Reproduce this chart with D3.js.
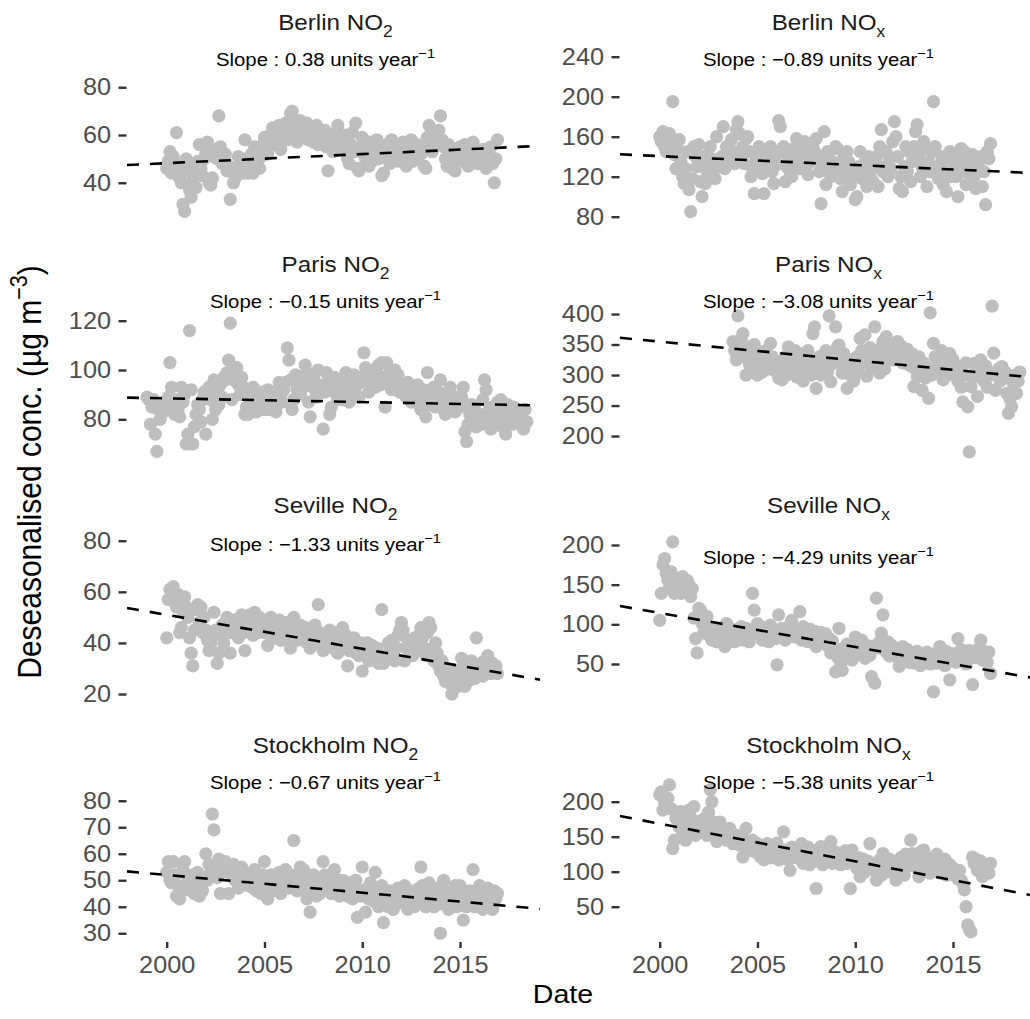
<!DOCTYPE html>
<html><head><meta charset="utf-8">
<script src="https://cdn.jsdelivr.net/npm/d3@7"></script>
<style>body{margin:0;background:#fff}svg{display:block}</style>
</head><body>
<svg id="c" width="1030" height="1019"></svg>
<script>
// ---------------- DATA ----------------
const cities = ["Berlin","Berlin","Paris","Paris","Seville","Seville","Stockholm","Stockholm"];
const pollutantSub = ["2","x","2","x","2","x","2","x"];
const seriesStart = [2000, 2000, 1999, 2003.75, 2000, 2000, 2000, 2000]; // decimal year of first monthly value

const berlinNO2 = [
46,49,53,44,51,48,61,47,42,40,31,28,
50,45,37,34,41,46,38,49,56,46,43,50,
52,57,40,39,42,51,54,50,68,55,48,52,
52,45,47,33,45,40,42,44,51,48,46,44,
58,50,44,47,52,44,55,49,53,46,51,56,
59,55,52,57,60,63,56,61,58,64,54,60,
62,65,58,60,69,70,64,61,57,63,66,60,
62,59,65,58,61,63,57,60,64,56,62,59,
58,62,55,45,57,60,53,59,61,64,56,60,
57,54,60,50,48,56,61,53,65,46,45,55,
59,52,50,55,47,57,49,54,52,58,50,55,
43,44,52,56,50,48,58,53,55,51,49,54,
54,57,50,47,55,52,58,49,53,51,56,55,
52,55,47,46,59,64,57,53,55,60,57,62,
68,58,55,50,47,56,53,46,54,45,50,52,
55,52,49,56,53,47,54,51,57,50,53,48,
52,49,54,50,46,53,51,55,48,40,50,58];

const berlinNOx = [
160,155,165,150,145,158,163,152,195,142,128,148,
157,135,120,113,128,145,107,85,118,150,140,130,
152,115,100,140,113,125,130,150,138,120,118,160,
130,135,140,170,128,150,143,136,157,145,133,167,
175,163,140,150,133,158,160,145,120,128,103,135,
140,150,130,123,103,128,146,135,150,125,113,140,
132,176,170,145,150,115,130,138,125,120,148,135,
158,140,128,150,145,155,130,122,140,135,150,145,
158,140,125,93,130,165,112,145,138,120,135,128,
150,148,130,118,105,140,125,145,135,112,128,120,
97,100,130,145,118,125,135,110,140,122,128,115,
135,140,110,150,167,125,130,145,120,138,128,155,
175,160,140,108,120,105,130,150,125,145,115,135,
150,165,172,140,120,130,155,148,110,135,125,145,
195,150,130,118,125,140,112,135,105,128,145,120,
140,130,120,100,135,148,125,145,112,138,130,118,
142,120,108,130,135,140,110,125,92,145,138,153];

const parisNO2 = [
89,88,78,85,88,74,67,84,80,86,83,87,
86,89,103,93,85,82,88,84,81,93,87,90,
70,74,116,92,70,77,82,86,84,79,88,91,
74,90,93,88,80,96,84,92,86,94,89,97,
96,99,104,119,88,96,99,101,94,90,97,93,
82,85,82,88,92,93,86,83,90,84,88,91,
84,87,92,84,89,91,86,83,88,95,90,87,
92,95,109,104,96,84,88,98,92,94,90,96,
93,102,99,87,81,95,97,92,89,100,94,91,
76,91,99,95,82,85,93,97,90,88,96,92,
88,93,99,96,87,91,95,98,90,94,89,97,
97,107,101,95,91,98,96,100,93,99,102,94,
103,97,85,103,95,99,92,96,100,94,98,91,
93,91,92,89,95,90,87,93,88,91,94,86,
84,88,92,81,99,86,90,87,93,85,89,91,
96,88,84,82,90,86,93,85,88,83,87,89,
85,89,93,75,71,78,82,86,80,84,77,81,
82,78,88,96,92,80,84,76,85,79,83,87,
84,88,77,81,74,86,80,83,78,85,79,82,
82,78,80,76,84,79];

const parisNOx = [
355,340,325,
397,345,360,368,330,300,346,318,335,310,350,325,
300,315,338,305,325,340,318,310,352,330,308,322,
308,295,320,292,315,330,300,346,312,325,305,340,
297,318,335,310,290,325,305,340,320,300,368,379,
278,310,330,300,322,315,340,305,397,289,318,330,
379,346,349,320,303,335,310,278,325,300,315,290,
314,330,305,360,340,320,366,298,325,345,312,330,
379,341,320,303,335,355,310,363,330,345,336,325,
346,340,355,330,348,320,335,319,342,328,315,335,
281,310,297,330,305,275,320,295,310,262,402,300,
352,330,318,314,305,340,292,325,310,300,335,320,
325,303,315,290,310,280,256,300,320,248,174,281,
295,319,310,265,303,325,300,290,315,280,305,300,
413,336,275,303,310,290,314,295,305,270,237,260,
248,286,300,270,290,305];

const sevilleNO2 = [
42,57,61,58,62,56,54,59,44,46,52,58,
54,50,42,36,31,45,53,55,48,54,44,50,
45,41,37,40,44,52,45,32,36,43,47,40,
48,50,46,36,44,49,45,48,42,47,51,44,
37,49,45,51,46,43,52,47,44,50,46,48,
44,48,39,46,50,45,42,47,44,49,41,46,
45,48,42,47,38,44,50,46,41,43,47,45,
43,46,40,44,38,45,42,47,41,55,44,39,
37,43,41,39,45,42,38,44,40,36,43,41,
46,40,43,31,37,41,38,42,36,39,35,40,
29,38,35,40,33,37,39,34,36,38,32,35,
53,32,35,34,40,37,41,36,33,38,43,45,
48,45,33,38,41,36,39,35,42,37,40,43,
46,42,38,35,44,48,46,37,33,40,36,31,
29,33,27,25,30,28,24,20,26,24,29,23,
28,34,31,23,27,25,30,33,28,26,42,30,
29,32,27,33,30,35,31,28,32,29,31,28];

const sevilleNOx = [
105,139,175,183,164,156,147,166,204,139,156,148,
152,139,160,148,143,155,150,135,145,108,82,64,
120,118,101,89,95,110,92,85,80,96,88,78,
90,85,93,75,72,101,88,95,82,93,78,86,
84,90,97,80,88,95,85,78,92,139,118,93,
101,88,93,80,96,85,92,78,99,87,94,82,
49,112,85,95,88,80,92,97,86,105,90,84,
93,88,116,80,97,85,90,78,94,86,82,91,
72,85,78,90,84,76,88,73,82,64,79,70,
40,59,95,51,42,70,63,75,58,68,55,72,
84,68,75,62,80,71,57,66,73,61,34,69,
26,133,76,70,89,112,72,65,78,60,74,68,
64,70,58,47,66,72,60,55,68,52,63,59,
51,60,66,55,48,62,57,52,65,58,50,61,
15,63,51,58,72,55,61,48,66,53,30,57,
63,59,52,82,60,68,55,64,50,61,67,58,
24,64,58,68,62,80,55,66,60,52,65,38];

const stockholmNO2 = [
53,57,50,49,57,52,44,48,43,46,54,57,
47,50,48,46,52,45,49,53,44,48,46,51,
60,50,56,53,75,69,54,51,58,45,53,56,
57,54,45,55,52,56,50,53,47,51,55,49,
53,50,48,52,51,47,54,46,50,49,45,52,
57,44,43,48,52,46,51,49,47,53,45,50,
48,54,50,47,52,49,65,49,46,51,55,48,
54,47,43,50,38,46,52,48,44,49,45,51,
57,52,49,47,51,45,48,54,46,50,44,49,
50,46,48,44,49,47,43,45,50,36,46,44,
55,45,38,47,43,49,46,42,53,44,40,46,
48,34,42,45,40,46,43,39,44,41,47,42,
45,43,48,41,39,44,46,42,40,45,43,47,
55,48,44,40,46,49,42,45,40,47,43,41,
30,44,50,46,42,39,45,41,43,48,40,44,
48,42,35,44,40,43,46,41,54,40,45,42,
48,43,39,45,42,47,44,41,39,46,43,45];

const stockholmNOx = [
210,214,188,198,200,205,224,190,133,145,176,185,
164,186,157,171,145,160,188,178,171,193,152,165,
172,160,158,175,168,152,185,217,200,171,160,143,
160,171,164,150,158,145,155,162,150,140,148,152,
143,138,150,121,145,162,136,140,130,145,135,128,
140,125,121,135,117,132,140,128,120,137,125,130,
141,117,130,125,157,131,118,124,102,135,120,128,
125,132,118,140,112,128,120,135,110,122,130,115,
76,121,130,136,110,117,125,118,135,143,112,120,
128,121,115,110,125,118,130,112,122,76,131,115,
112,105,120,93,110,118,100,112,115,140,104,108,
102,88,110,117,95,126,108,112,100,118,105,107,
110,88,115,100,120,112,95,125,108,118,145,126,
118,107,112,93,128,100,131,115,105,117,98,110,
120,108,125,115,98,112,102,118,95,105,110,100,
105,95,98,90,102,88,83,74,50,24,18,14,
121,112,118,102,107,115,93,110,100,105,98,112];

const series = [berlinNO2, berlinNOx, parisNO2, parisNOx, sevilleNO2, sevilleNOx, stockholmNO2, stockholmNOx];
const slopes = [0.38, -0.89, -0.15, -3.08, -1.33, -4.29, -0.67, -5.38];
const trendAt2000 = [48.2, 140.6, 88.5, 354.8, 51.0, 114.3, 52.0, 168.6];
const slopeLabels = ["0.38","\u22120.89","\u22120.15","\u22123.08","\u22121.33","\u22124.29","\u22120.67","\u22125.38"];
const yTicks = [[40,60,80],[80,120,160,200,240],[80,100,120],[200,250,300,350,400],
                [20,40,60,80],[50,100,150,200],[30,40,50,60,70,80],[50,100,150,200]];
const xTicks = [2000, 2005, 2010, 2015];

// ---------------- LAYOUT ----------------
const SX = 1.1;               // horizontal glyph stretch
const FONT = "'Liberation Sans', Arial, Helvetica, sans-serif";
const xDomain = [1997.97, 2019.09];
const cols = [[127,540],[620,1033]];
const rows = [[45,225],[300,460],[530,705],[770,942]];
const yDomains = [[22.3,97.7],[71.7,251.7],[63.5,128.4],[160.7,423],[15.7,84.2],[-1.7,218.9],[26.7,91.6],[-0.4,245.3]];
const titleY = [30, 272, 513, 753];
const slopeY = [66, 66, 308, 308, 551, 564, 789, 789];

const svg = d3.select("#c");
svg.append("rect").attr("width",1030).attr("height",1019).attr("fill","#fff");

// parts: {t, sub} / {t, sup}; the dy of a normal part after a shifted one restores the baseline
function stretchedText(g, x, y, anchor, size, parts, fill, rotate) {
  const gg = g.append("g").attr("transform", `translate(${x},${y}) scale(${SX},1)` + (rotate ? ` rotate(${rotate})` : ""));
  const t = gg.append("text").attr("text-anchor", anchor).attr("font-family", FONT)
    .attr("font-weight", "normal").attr("font-size", size).attr("fill", fill || "#000");
  let shift = 0;
  parts.forEach(p => {
    const span = t.append("tspan");
    let target = 0;
    if (p.sub) { target = 0.3 * size; span.attr("font-size", size*0.72); }
    else if (p.sup) { target = -0.42 * size; span.attr("font-size", size*0.72); }
    if (target - shift !== 0) span.attr("dy", target - shift);
    shift = target;
    span.text(p.t);
  });
  return t;
}

series.forEach((vals, i) => {
  const r = Math.floor(i/2), c = i % 2;
  const x = d3.scaleLinear().domain(xDomain).range(cols[c]);
  const y = d3.scaleLinear().domain(yDomains[i]).range([rows[r][1], rows[r][0]]);
  const g = svg.append("g");

  // points
  const pts = vals.map((v, k) => ({date: seriesStart[i] + k/12, v}));
  g.append("g").selectAll("circle").data(pts).join("circle")
    .attr("cx", d => x(d.date)).attr("cy", d => y(d.v)).attr("r", 6.6)
    .attr("fill", "#bebebe");

  // trend line
  const line = d3.line().x(d => x(d)).y(d => y(trendAt2000[i] + slopes[i]*(d - 2000)));
  g.append("path").datum(xDomain).attr("d", line)
    .attr("fill","none").attr("stroke","#000").attr("stroke-width",2.6)
    .attr("stroke-dasharray","12,11");

  // y axis
  const ya = g.append("g").attr("transform", `translate(${cols[c][0]-0.5},0)`)
    .call(d3.axisLeft(y).tickValues(yTicks[i]).tickSize(8).tickPadding(7.5).tickFormat(d3.format("d")));
  ya.select(".domain").remove();
  ya.selectAll(".tick line").attr("stroke","#333").attr("stroke-width",2.4);
  ya.selectAll(".tick text").attr("font-size",23).attr("font-family",FONT).attr("fill","#4d4d4d")
    .attr("transform", `scale(${SX},1)`).attr("x", -(8+7.5)/SX);

  // x axis on bottom row
  if (r === 3) {
    const xa = g.append("g").attr("transform", `translate(0,${rows[r][1]})`)
      .call(d3.axisBottom(x).tickValues(xTicks).tickSize(6).tickPadding(9).tickFormat(d3.format("d")));
    xa.select(".domain").remove();
    xa.selectAll(".tick line").attr("stroke","#333").attr("stroke-width",2.4);
    xa.selectAll(".tick text").attr("font-size",23).attr("font-family",FONT).attr("fill","#4d4d4d")
      .attr("transform", `scale(${SX},1)`).attr("x", 0);
  }

  // title
  const cx = (cols[c][0] + cols[c][1]) / 2;
  stretchedText(svg, cx + 2, titleY[r], "middle", 22,
    [{t: cities[i] + " NO"}, {t: pollutantSub[i], sub: true}], "#1a1a1a");

  // slope label
  stretchedText(svg, cx - 8, slopeY[i], "middle", 18.5,
    [{t: "Slope :  " + slopeLabels[i] + " units year"}, {t: "\u22121", sup: true}], "#000");
});

// axis titles
stretchedText(svg, 563, 1003, "middle", 26, [{t: "Date"}], "#000");
stretchedText(svg, 41, 472, "middle", 30,
  [{t: "Deseasonalised conc. (\u00B5g m"}, {t: "\u22123", sup: true}, {t: ")"}], "#000", -90);
</script>
</body></html>
